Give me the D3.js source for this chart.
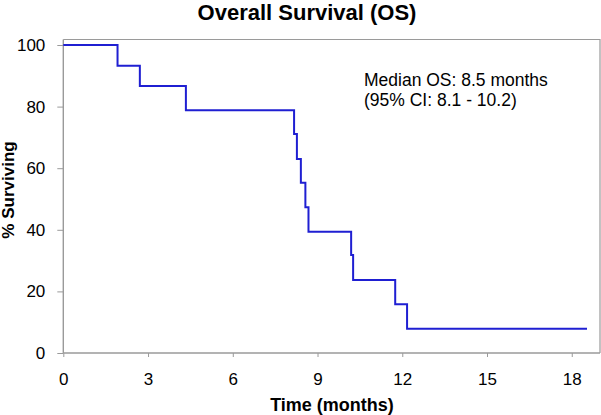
<!DOCTYPE html>
<html>
<head>
<meta charset="utf-8">
<script src="https://cdn.jsdelivr.net/npm/d3@7"></script>
<style>
html,body{margin:0;padding:0;background:#fff;}
svg{display:block;}
text{font-family:Arial,"Liberation Sans",sans-serif;fill:#000;}
</style>
</head>
<body>
<script>
// Data (Kaplan-Meier step points)
const timeMonths = [0, 1.92, 2.71, 4.34, 8.17, 8.27, 8.41, 8.57, 8.68, 10.19, 10.26, 11.75, 12.17, 18.54];
const survivalPct = [100, 93.3, 86.7, 78.8, 71.1, 63.0, 55.3, 47.3, 39.4, 31.8, 23.7, 15.8, 7.9, 7.9];
const xTicks = [0, 3, 6, 9, 12, 15, 18];
const yTicks = [0, 20, 40, 60, 80, 100];
const titleText = "Overall Survival (OS)";
const xLabel = "Time (months)";
const yLabel = "% Surviving";
const noteLines = ["Median OS: 8.5 months", "(95% CI: 8.1 - 10.2)"];

const W = 601, H = 415;
const pLeft = 63.3, pRight = 600, pTop = 39.5, pBottom = 353, pY100 = 45;

const svg = d3.select("body").append("svg").attr("width", W).attr("height", H);

const x = d3.scaleLinear().domain([0, 19]).range([pLeft, pRight]);
const y = d3.scaleLinear().domain([0, 100]).range([pBottom, pY100]);

const gray = "#9a9a9a";

// Plot frame (top and right border)
svg.append("path")
  .attr("d", `M${pLeft},${pTop}H${pRight}V${pBottom}`)
  .attr("fill", "none").attr("stroke", gray).attr("stroke-width", 1.2);

// Y axis
const yAxis = svg.append("g").attr("transform", `translate(${pLeft},0)`)
  .call(d3.axisLeft(y).tickValues(yTicks).tickSize(6).tickPadding(12).tickFormat(d3.format("d")));
yAxis.select(".domain").remove();
yAxis.append("line").attr("x1", 0).attr("x2", 0).attr("y1", pTop).attr("y2", pBottom)
  .attr("stroke", gray).attr("stroke-width", 1.4);
yAxis.selectAll(".tick line").attr("stroke", gray).attr("stroke-width", 1);
yAxis.selectAll(".tick text").style("font-size", "17px").attr("fill", "#000")
  .style("font-family", "Arial, 'Liberation Sans', sans-serif");

// X axis
const xAxis = svg.append("g").attr("transform", `translate(0,${pBottom})`)
  .call(d3.axisBottom(x).tickValues(xTicks).tickSize(4).tickPadding(16).tickFormat(d3.format("d")));
xAxis.select(".domain").remove();
xAxis.append("line").attr("x1", pLeft).attr("x2", pRight).attr("y1", 0).attr("y2", 0)
  .attr("stroke", gray).attr("stroke-width", 1.4);
xAxis.selectAll(".tick line").attr("stroke", gray).attr("stroke-width", 1);
xAxis.selectAll(".tick text").style("font-size", "17px").attr("fill", "#000")
  .style("font-family", "Arial, 'Liberation Sans', sans-serif");

// Survival curve
const pts = timeMonths.map((t, i) => [t, survivalPct[i]]);
const line = d3.line().x(d => x(d[0])).y(d => y(d[1])).curve(d3.curveStepAfter);
svg.append("path").datum(pts)
  .attr("d", line)
  .attr("fill", "none").attr("stroke", "#1f1fd2").attr("stroke-width", 2);

// Title
svg.append("text").attr("x", 307).attr("y", 20).attr("text-anchor", "middle")
  .style("font-size", "22px").style("font-weight", "bold").text(titleText);

// Axis labels
svg.append("text").attr("x", 332).attr("y", 411).attr("text-anchor", "middle")
  .style("font-size", "18px").style("font-weight", "bold").text(xLabel);
svg.append("text").attr("transform", "translate(14,190) rotate(-90)").attr("text-anchor", "middle")
  .style("font-size", "17px").style("font-weight", "bold").text(yLabel);

// Annotation
svg.append("text").attr("x", 364).attr("y", 86).style("font-size", "17.5px").text(noteLines[0]);
svg.append("text").attr("x", 364).attr("y", 105.5).style("font-size", "17.5px").text(noteLines[1]);
</script>
</body>
</html>
